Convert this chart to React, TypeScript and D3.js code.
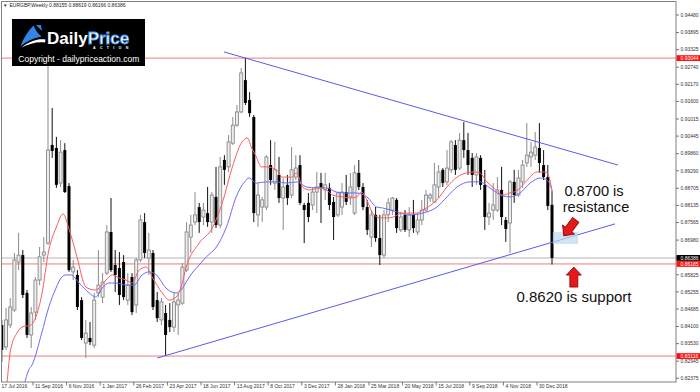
import React, { useEffect } from "react";
import * as d3 from "d3";

// Weekly EURGBP candles, index 0 = week of 17 Jul 2016, index 131 = week of 20 Jan 2019
const opens = [
  0.8415, 0.8342, 0.8415, 0.8465, 0.8625, 0.8648, 0.8522, 0.8382, 0.8458, 0.8565,
  0.8648, 0.8688, 0.9015, 0.9005, 0.8888, 0.8998, 0.8878, 0.8592, 0.8582, 0.8498,
  0.8355, 0.8372, 0.8348, 0.8522, 0.8508, 0.8588, 0.8725, 0.8615, 0.8605, 0.8625,
  0.8498, 0.8575, 0.8482, 0.8632, 0.8758, 0.8638, 0.8655, 0.8498, 0.8432, 0.8455,
  0.8432, 0.8408, 0.8482, 0.8488, 0.8598, 0.8708, 0.8758, 0.8808, 0.8775, 0.8788,
  0.8758, 0.8842, 0.8748, 0.8965, 0.8942, 0.9021, 0.9081, 0.9125, 0.9231, 0.9165,
  0.9108, 0.8782, 0.8808, 0.8808, 0.8948, 0.8888, 0.8915, 0.8838, 0.8882, 0.8848,
  0.8908, 0.8948, 0.8815, 0.8822, 0.8815, 0.8858, 0.8888, 0.8865, 0.8872, 0.8825,
  0.8782, 0.8808, 0.8858, 0.8842, 0.8788, 0.8922, 0.8875, 0.8808, 0.8708, 0.8782,
  0.8705, 0.8648, 0.8782, 0.8798, 0.8832, 0.8732, 0.8782, 0.8732, 0.8782, 0.8725,
  0.8765, 0.8798, 0.8838, 0.8825, 0.8875, 0.8932, 0.8892, 0.8932, 0.9015, 0.8938,
  0.9031, 0.8998, 0.8972, 0.8915, 0.8972, 0.8882, 0.8775, 0.8798, 0.8798, 0.8865,
  0.8765, 0.8755, 0.8892, 0.8848, 0.8892, 0.8955, 0.8975, 0.8981, 0.9005, 0.8948,
  0.8908, 0.88155,
];
const highs = [
  0.8432, 0.8472, 0.8505, 0.8655, 0.8722, 0.8665, 0.8532, 0.8475, 0.8575, 0.8675,
  0.8708, 0.9415, 0.9138, 0.9042, 0.9031, 0.9021, 0.8888, 0.8632, 0.8598, 0.8508,
  0.8432, 0.8425, 0.8522, 0.8665, 0.8588, 0.8748, 0.8838, 0.8665, 0.8658, 0.8648,
  0.8588, 0.8588, 0.8638, 0.8782, 0.8788, 0.8722, 0.8665, 0.8525, 0.8505, 0.8482,
  0.8488, 0.8522, 0.8522, 0.8622, 0.8758, 0.8782, 0.8858, 0.8822, 0.8822, 0.8875,
  0.8858, 0.8942, 0.8975, 0.8981, 0.9048, 0.9108, 0.9148, 0.9271, 0.9305, 0.9191,
  0.9115, 0.8888, 0.8842, 0.8981, 0.9031, 0.9025, 0.8975, 0.8905, 0.8915, 0.9008,
  0.8981, 0.8981, 0.8822, 0.8855, 0.8872, 0.8925, 0.8922, 0.8922, 0.8888, 0.8842,
  0.8858, 0.8888, 0.8915, 0.8922, 0.8948, 0.8965, 0.8888, 0.8832, 0.8798, 0.8808,
  0.8782, 0.8798, 0.8838, 0.8842, 0.8838, 0.8792, 0.8798, 0.8808, 0.8832, 0.8788,
  0.8832, 0.8865, 0.8855, 0.8955, 0.8948, 0.8938, 0.8998, 0.9031, 0.9031, 0.9055,
  0.9091, 0.9055, 0.8988, 0.8988, 0.8981, 0.8932, 0.8822, 0.8888, 0.8908, 0.8942,
  0.8775, 0.8898, 0.8932, 0.8932, 0.8965, 0.9088, 0.9025, 0.9058, 0.9088, 0.8998,
  0.8948, 0.88619,
];
const lows = [
  0.8292, 0.8332, 0.8405, 0.8458, 0.8598, 0.8505, 0.8372, 0.8338, 0.8432, 0.8548,
  0.8625, 0.8682, 0.8972, 0.8872, 0.8875, 0.8855, 0.8592, 0.8565, 0.8465, 0.8365,
  0.8305, 0.8348, 0.8338, 0.8508, 0.8488, 0.8582, 0.8592, 0.8525, 0.8482, 0.8498,
  0.8482, 0.8448, 0.8455, 0.8625, 0.8638, 0.8582, 0.8465, 0.8425, 0.8415, 0.8312,
  0.8392, 0.8392, 0.8382, 0.8482, 0.8592, 0.8655, 0.8748, 0.8722, 0.8748, 0.8742,
  0.8722, 0.8738, 0.8738, 0.8882, 0.8925, 0.9015, 0.9075, 0.9121, 0.9148, 0.9108,
  0.8758, 0.8742, 0.8758, 0.8798, 0.8882, 0.8865, 0.8822, 0.8732, 0.8815, 0.8838,
  0.8898, 0.8815, 0.8688, 0.8758, 0.8798, 0.8788, 0.8755, 0.8832, 0.8798, 0.8698,
  0.8775, 0.8782, 0.8815, 0.8815, 0.8782, 0.8865, 0.8798, 0.8715, 0.8675, 0.8692,
  0.8615, 0.8638, 0.8758, 0.8782, 0.8722, 0.8725, 0.8725, 0.8708, 0.8722, 0.8715,
  0.8748, 0.8792, 0.8825, 0.8822, 0.8838, 0.8875, 0.8882, 0.8922, 0.8915, 0.8932,
  0.8972, 0.8915, 0.8875, 0.8882, 0.8865, 0.8732, 0.8748, 0.8765, 0.8792, 0.8748,
  0.8692, 0.8655, 0.8822, 0.8842, 0.8872, 0.8942, 0.8942, 0.8965, 0.8922, 0.8898,
  0.8798, 0.86166,
];
const closes = [
  0.8332, 0.8432, 0.8475, 0.8632, 0.8648, 0.8515, 0.8382, 0.8455, 0.8565, 0.8642,
  0.8658, 0.8998, 0.8995, 0.8882, 0.8991, 0.8858, 0.8598, 0.8608, 0.8475, 0.8372,
  0.8388, 0.8358, 0.8498, 0.8548, 0.8558, 0.8725, 0.8598, 0.8582, 0.8515, 0.8508,
  0.8548, 0.8458, 0.8632, 0.8765, 0.8655, 0.8665, 0.8475, 0.8438, 0.8492, 0.8382,
  0.8408, 0.8492, 0.8498, 0.8608, 0.8725, 0.8748, 0.8782, 0.8758, 0.8798, 0.8758,
  0.8848, 0.8748, 0.8942, 0.8932, 0.9025, 0.9081, 0.9125, 0.9255, 0.9155, 0.9121,
  0.8788, 0.8848, 0.8832, 0.8975, 0.8898, 0.8932, 0.8838, 0.8875, 0.8838, 0.8932,
  0.8938, 0.8822, 0.8798, 0.8775, 0.8858, 0.8875, 0.8872, 0.8882, 0.8815, 0.8775,
  0.8855, 0.8858, 0.8825, 0.8875, 0.8922, 0.8875, 0.8808, 0.8732, 0.8782, 0.8705,
  0.8648, 0.8782, 0.8822, 0.8838, 0.8738, 0.8775, 0.8732, 0.8782, 0.8738, 0.8765,
  0.8798, 0.8848, 0.8848, 0.8882, 0.8925, 0.8888, 0.8938, 0.9025, 0.8932, 0.9031,
  0.8998, 0.8948, 0.8915, 0.8975, 0.8882, 0.8775, 0.8788, 0.8815, 0.8865, 0.8775,
  0.8735, 0.8892, 0.8848, 0.8905, 0.8948, 0.8981, 0.8991, 0.9008, 0.8955, 0.8908,
  0.8812, 0.86386,
];

// Moving averages: [bar index, price]
const maFast: [number, number][] = [
  [1.2, 0.8215], [2.1, 0.8332], [3.6, 0.8388], [4.8, 0.8408], [6.9, 0.8415], [9.5, 0.8515],
  [11.2, 0.8665], [12.9, 0.8738], [14.6, 0.8785], [16.0, 0.8735], [17.9, 0.8642], [20.0, 0.8542],
  [22.0, 0.8532], [23.2, 0.8538], [24.8, 0.8565], [26.3, 0.8582], [27.9, 0.8572], [29.6, 0.8565],
  [31.0, 0.8555], [32.7, 0.8598], [34.4, 0.8608], [35.8, 0.8575], [38.2, 0.8522], [39.9, 0.8498],
  [41.5, 0.8508], [42.7, 0.8542], [43.9, 0.8608], [47.0, 0.8688], [50.1, 0.8738], [52.5, 0.8822],
  [54.9, 0.8942], [57.0, 0.9021], [58.5, 0.9038], [59.4, 0.9008], [60.6, 0.8975], [61.8, 0.8942],
  [63.0, 0.8942], [65.4, 0.8932], [66.8, 0.8908], [69.0, 0.8908], [70.2, 0.8922], [71.6, 0.8875],
  [73.3, 0.8865], [75.7, 0.8872], [77.3, 0.8865], [78.8, 0.8848], [81.1, 0.8842], [82.8, 0.8838],
  [84.5, 0.8842], [85.7, 0.8858], [86.9, 0.8832], [88.3, 0.8788], [90.0, 0.8772], [92.4, 0.8772],
  [95.5, 0.8788], [98.8, 0.8788], [100.2, 0.8798], [103.6, 0.8832], [106.0, 0.8875], [108.4, 0.8908],
  [110.7, 0.8922], [112.6, 0.8925], [113.8, 0.8922], [115.5, 0.8892], [116.9, 0.8875], [119.3, 0.8848],
  [121.0, 0.8855], [122.6, 0.8862], [125.1, 0.8898], [127.4, 0.8925], [129.4, 0.8925], [130.5, 0.8898],
  [131.0, 0.8862],
];
const maSlow: [number, number][] = [
  [5.3, 0.8215], [6.4, 0.8265], [7.2, 0.8282], [9.5, 0.8388], [11.2, 0.8475], [12.9, 0.8538],
  [14.3, 0.8575], [15.3, 0.8582], [16.5, 0.8582], [18.4, 0.8555], [20.8, 0.8522], [22.4, 0.8508],
  [23.9, 0.8538], [25.5, 0.8555], [27.2, 0.8555], [29.6, 0.8548], [31.5, 0.8548], [33.4, 0.8582],
  [35.1, 0.8592], [36.8, 0.8582], [39.1, 0.8538], [41.5, 0.8522], [42.7, 0.8532], [44.2, 0.8565],
  [45.3, 0.8588], [47.0, 0.8615], [48.7, 0.8642], [51.1, 0.8675], [53.5, 0.8742], [55.8, 0.8842],
  [57.8, 0.8892], [58.9, 0.8905], [60.6, 0.8888], [63.0, 0.8892], [65.4, 0.8892], [67.8, 0.8888],
  [70.2, 0.8892], [72.6, 0.8875], [74.9, 0.8872], [77.3, 0.8872], [79.7, 0.8858], [82.1, 0.8855],
  [84.5, 0.8855], [86.9, 0.8842], [89.3, 0.8808], [90.7, 0.8805], [94.0, 0.8792], [97.1, 0.8782],
  [100.2, 0.8788], [103.6, 0.8808], [106.0, 0.8842], [108.4, 0.8875], [111.5, 0.8892], [113.8, 0.8892],
  [116.2, 0.8872], [119.3, 0.8845], [121.0, 0.8842], [123.4, 0.8855], [125.8, 0.8888], [128.2, 0.8905],
  [129.8, 0.8898], [131.0, 0.8865],
];

const upperTrend: [number, number][] = [[52.9, 0.9325], [146.7, 0.8948]];
const lowerTrend: [number, number][] = [[37.0, 0.8305], [146.0, 0.8752]];
const levelLines = [0.93044, 0.86185, 0.83116];
const lastPrice = 0.86386;
const resistanceZone = { from: 131.2, to: 137.2, top: 0.8725, bottom: 0.8685 };
const supportArrowTip: [number, number] = [136.2, 0.8608];
const resistanceArrowTip: [number, number] = [133.8, 0.8712];

const priceTicks = [
  0.9448, 0.93895, 0.93325, 0.9274, 0.9217, 0.916, 0.91015, 0.90445, 0.8986, 0.8929, 0.88705,
  0.88135, 0.87565, 0.8698, 0.8641, 0.85825, 0.85255, 0.84685, 0.841, 0.8353, 0.82945, 0.82375,
];
const dateLabels: [number, string][] = [
  [0, "17 Jul 2016"], [8, "11 Sep 2016"], [16, "6 Nov 2016"], [24, "1 Jan 2017"],
  [32, "26 Feb 2017"], [40, "23 Apr 2017"], [48, "18 Jun 2017"], [56, "13 Aug 2017"],
  [64, "8 Oct 2017"], [72, "3 Dec 2017"], [80, "28 Jan 2018"], [88, "25 Mar 2018"],
  [96, "20 May 2018"], [104, "15 Jul 2018"], [112, "9 Sep 2018"], [120, "4 Nov 2018"],
  [128, "30 Dec 2018"],
];
const headerText = "EURGBP,Weekly  0.88155 0.88619 0.86166 0.86386";

const W = 700;
const H = 392;
const PLOT_R = 676;
const PLOT_B = 382;

export default function App() {
  useEffect(() => {
    document.body.style.margin = "0";
  }, []);

  const x = d3.scaleLinear().domain([0, 131]).range([1.8, 1.8 + 4.2 * 131]);
  const y = d3.scaleLinear().domain([0.82375, 0.9448]).range([378.3, 15]);

  const maLine = d3
    .line<[number, number]>()
    .x((d) => x(d[0]))
    .y((d) => y(d[1]))
    .curve(d3.curveMonotoneX);
  const straight = d3
    .line<[number, number]>()
    .x((d) => x(d[0]))
    .y((d) => y(d[1]));

  const font = "'Liberation Sans', Arial, sans-serif";
  const arrowPts = "0,0 7.5,8 4,8 4,20 -4,20 -4,8 -7.5,8";

  return (
    <svg
      width={W}
      height={H}
      style={{ position: "absolute", left: 0, top: 0, display: "block", background: "#fff" }}
      fontFamily={font}
    >
      <defs>
        <clipPath id="plot">
          <rect x={2} y={2} width={PLOT_R - 2} height={PLOT_B - 2} />
        </clipPath>
      </defs>
      <rect x={0} y={0} width={W} height={H} fill="#fff" />

      <g clipPath="url(#plot)">
        {/* horizontal levels */}
        <line x1={2} x2={PLOT_R} y1={y(lastPrice)} y2={y(lastPrice)} stroke="#dadada" strokeWidth={2} />
        {levelLines.map((v) => (
          <line key={v} x1={2} x2={PLOT_R} y1={y(v)} y2={y(v)} stroke="#f27a7a" strokeWidth={1} />
        ))}

        {/* candles */}
        {opens.map((o, i) => {
          const c = closes[i];
          const bull = c >= o;
          const cx = x(i);
          const top = y(Math.max(o, c));
          const bot = y(Math.min(o, c));
          const h = Math.max(1, bot - top);
          return (
            <g key={i}>
              <line
                x1={cx}
                x2={cx}
                y1={y(highs[i])}
                y2={y(lows[i])}
                stroke={bull ? "#8a8a8a" : "#111"}
                strokeWidth={1}
              />
              {bull ? (
                <rect x={cx - 1.5} y={top} width={3} height={h} fill="#ececec" stroke="#8a8a8a" strokeWidth={0.9} />
              ) : (
                <rect x={cx - 1.5} y={top} width={3} height={h} fill="#000" />
              )}
            </g>
          );
        })}

        {/* moving averages */}
        <path d={maLine(maSlow) || ""} fill="none" stroke="#6a6aff" strokeWidth={1} />
        <path d={maLine(maFast) || ""} fill="none" stroke="#ff5a5a" strokeWidth={1} />

        {/* trend lines */}
        <path d={straight(upperTrend) || ""} fill="none" stroke="#5a5af0" strokeWidth={1} />
        <path d={straight(lowerTrend) || ""} fill="none" stroke="#5a5af0" strokeWidth={1} />

        {/* resistance zone */}
        <rect
          x={x(resistanceZone.from)}
          y={y(resistanceZone.top)}
          width={x(resistanceZone.to) - x(resistanceZone.from)}
          height={y(resistanceZone.bottom) - y(resistanceZone.top)}
          fill="#bcd8ee"
          fillOpacity={0.7}
        />

        {/* arrows */}
        <polygon
          points={arrowPts}
          transform={`translate(${x(supportArrowTip[0])},${y(supportArrowTip[1])})`}
          fill="#e41a1a"
          stroke="#8b0000"
          strokeWidth={0.8}
        />
        <polygon
          points={arrowPts}
          transform={`translate(${x(resistanceArrowTip[0])},${y(resistanceArrowTip[1])}) rotate(217)`}
          fill="#e41a1a"
          stroke="#8b0000"
          strokeWidth={0.8}
        />

        {/* annotation text */}
        <text x={594} y={195.8} fontSize={14.6} textAnchor="middle" fill="#111">0.8700 is</text>
        <text x={596} y={212.4} fontSize={14.6} textAnchor="middle" fill="#111">resistance</text>
        <text x={574} y={301.7} fontSize={15} textAnchor="middle" fill="#111">0.8620 is support</text>
      </g>

      {/* frame */}
      <rect x={1.5} y={1.5} width={PLOT_R - 1.5} height={PLOT_B - 1.5} fill="none" stroke="#808080" strokeWidth={1} />

      {/* header */}
      <text x={3} y={7.2} fontSize={4.5} fill="#222">▼</text>
      <text x={9.5} y={7.2} fontSize={5} fill="#222">{headerText}</text>

      {/* logo */}
      <g>
        <rect x={12} y={19} width={133} height={47} fill="#000" />
        <path d="M20.5,46.5 C23,39 28,31 33.5,25.5 C35,29 37.5,33.5 41.5,36.5 C33,38 26,41.5 20.5,46.5 Z" fill="#2f86e8" />
        <path d="M36,25 L41,25 L42,31 Z" fill="#2f86e8" />
        <path d="M21.5,47.5 C30,41 37.5,38.5 45.5,39.5 L45,42.5 C37,41.5 30,43.5 21.5,47.5 Z" fill="#fff" />
        <text x={47} y={43.6} fontSize={17} fontWeight="bold" fill="#fff">
          Daily
          <tspan fill="#fff" stroke="#3a8de6" strokeWidth={0.8}>Price</tspan>
        </text>
        <text x={93} y={48.6} fontSize={3.6} letterSpacing={4.3} fill="#fff" fontWeight="bold">ACTION</text>
        <text x={18.3} y={61.6} fontSize={8.5} fill="#fff">Copyright - dailypriceaction.com</text>
      </g>

      {/* price axis */}
      {priceTicks.map((v) => (
        <g key={v}>
          <line x1={PLOT_R} x2={679} y1={y(v)} y2={y(v)} stroke="#555" strokeWidth={0.8} />
          <text x={680.5} y={y(v) + 1.8} fontSize={5} fill="#333">{v.toFixed(5)}</text>
        </g>
      ))}
      {levelLines.map((v) => (
        <g key={"lv" + v}>
          <rect x={676.5} y={y(v) - 2.9} width={23.5} height={5.8} fill="#ff1010" />
          <text x={680.5} y={y(v) + 1.8} fontSize={5} fill="#fff">{v.toFixed(5)}</text>
        </g>
      ))}
      <rect x={676.5} y={y(lastPrice) - 2.9} width={23.5} height={5.8} fill="#000" />
      <text x={680.5} y={y(lastPrice) + 1.8} fontSize={5} fill="#fff">{lastPrice.toFixed(5)}</text>

      {/* time axis */}
      {dateLabels.map(([i, label]) => (
        <g key={label}>
          <line x1={x(i) - 2.4} x2={x(i) - 2.4} y1={PLOT_B} y2={385.5} stroke="#555" strokeWidth={0.8} />
          <text x={x(i) - 0.3} y={387.6} fontSize={5} fill="#333">{label}</text>
        </g>
      ))}
    </svg>
  );
}
